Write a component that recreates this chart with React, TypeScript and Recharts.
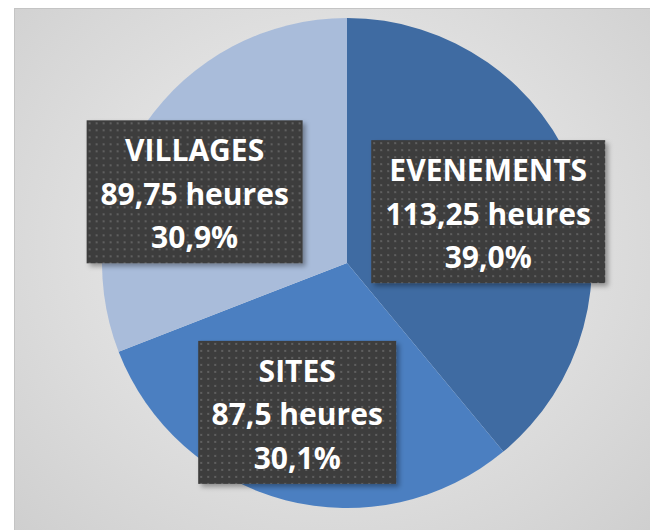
import { PieChart, Pie, Cell } from 'recharts'

const categories = ['EVENEMENTS', 'SITES', 'VILLAGES']
const hours = [113.25, 87.5, 89.75]

const COLORS = ['#3f6ba2', '#4b7fc1', '#a9bcda']
// nudges so the boxes sit where Excel put them
const LABEL_SHIFT = [[-4, 1], [-11, 0], [-25, 16]]

const total = hours.reduce((a, b) => a + b, 0)
const data = categories.map((name, i) => ({ name, value: hours[i] }))

const RADIAN = Math.PI / 180
const FONT = '"Open Sans", "Noto Sans", sans-serif'

const fmt = (v: number) => String(v).replace('.', ',')

function renderLabel(props: any) {
  const { cx, cy, midAngle, outerRadius, index, value } = props
  const name = props.name ?? props.payload?.name
  const r = outerRadius * 0.63
  const x = cx + r * Math.cos(-midAngle * RADIAN) + LABEL_SHIFT[index][0]
  const y = cy + r * Math.sin(-midAngle * RADIAN) + LABEL_SHIFT[index][1]
  const lines = [name, `${fmt(value)} heures`, `${((value / total) * 100).toFixed(1).replace('.', ',')}%`]
  const maxLen = Math.max(...lines.map(l => l.length))
  const w = maxLen * 18
  const h = 143
  const x0 = x - w / 2
  const y0 = y - h / 2
  const pid = `dots-${index}`
  const fid = `shadow-${index}`
  return (
    <g key={`lbl-${index}`}>
      <defs>
        <pattern id={pid} width="7" height="7" patternUnits="userSpaceOnUse" x={x0} y={y0}>
          <rect width="7" height="7" fill="#3e3e3e" />
          <rect x="2" y="2" width="2" height="2" fill="#5e5e5e" />
        </pattern>
        <filter id={fid} x="-10%" y="-10%" width="130%" height="130%">
          <feDropShadow dx="3" dy="3" stdDeviation="2.5" floodColor="#000" floodOpacity="0.35" />
        </filter>
      </defs>
      <rect x={x0} y={y0} width={w} height={h} fill={`url(#${pid})`} filter={`url(#${fid})`} />
      {lines.map((t, i) => (
        <text
          key={i}
          x={x}
          y={y0 + 41 + i * 43.5}
          textAnchor="middle"
          fill="#ffffff"
          fontFamily={FONT}
          fontWeight={700}
          fontSize={30}
        >
          {t}
        </text>
      ))}
    </g>
  )
}

export default function App() {
  return (
    <div style={{ position: 'absolute', left: 0, top: 0, width: 650, height: 530, background: '#ffffff' }}>
      <div
        style={{
          position: 'absolute',
          left: 14,
          top: 8,
          width: 636,
          height: 522,
          borderTop: '1px solid #c4c4c4',
          borderLeft: '1px solid #c4c4c4',
          boxSizing: 'border-box',
          background: 'radial-gradient(ellipse at 50% 45%, #ececec 0%, #e2e2e2 45%, #cfcfcf 100%)',
        }}
      />
      <div style={{ position: 'absolute', left: 0, top: 0 }}>
        <PieChart width={650} height={530} margin={{ top: 0, right: 0, bottom: 0, left: 0 }}>
          <Pie
            data={data}
            dataKey="value"
            nameKey="name"
            cx={347}
            cy={263}
            outerRadius={245}
            startAngle={90}
            endAngle={-270}
            stroke="none"
            label={renderLabel}
            labelLine={false}
            isAnimationActive={false}
          >
            {data.map((_, i) => <Cell key={i} fill={COLORS[i % COLORS.length]} />)}
          </Pie>
        </PieChart>
      </div>
    </div>
  )
}
